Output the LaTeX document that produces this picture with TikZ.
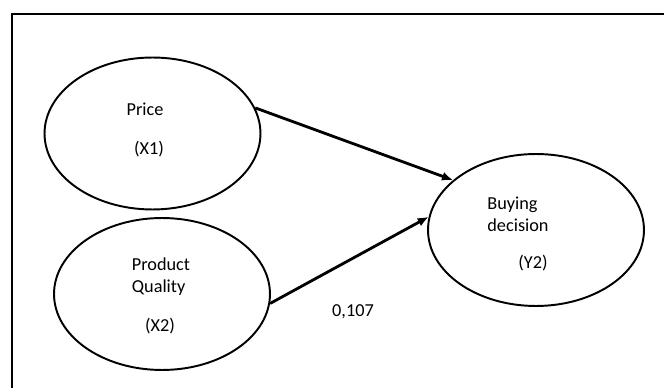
\documentclass[tikz,border=0pt]{standalone}
\usepackage{fontspec}
\setmainfont{Carlito}
\usetikzlibrary{shapes.geometric,arrows.meta}

\tikzset{
	latent/.style={draw, ellipse, line width=1.1pt, inner sep=0pt,
		minimum width=4.32cm, minimum height=3.04cm},
	label/.style={inner sep=0pt, font=\fontsize{10.4}{12.5}\selectfont},
	path/.style={line width=1.6pt, -{Latex[length=2.2mm,width=1.8mm]}}
}

\begin{document}
\begin{tikzpicture}[x=0.02cm, y=-0.02cm]
\useasboundingbox (0,0) rectangle (664,388);

%frame
\draw[line width=1.1pt] (12,388) -- (12,14) -- (664,14);

%constructs
\node[latent] (price) at (152.5,133.5) {};
\node[latent] (quality) at (162,294) {};
\node[latent] (decision) at (536,230) {};

%texts
\node[label] (t1) at (145,109) {Price};
\node[label] (t2) at (149,149) {(X1)};
\node[label, align=left] (t3) at (161,277) {Product\\Quality};
\node[label] (t4) at (160,326) {(X2)};
\node[label, align=left] (t5) at (518,214) {Buying\\decision};
\node[label] (t6) at (533,263) {(Y2)};

%paths
\draw[path] (price.14) -- (decision.149);
\draw[path] (quality.-5) -- (decision.173);
\node[label] (coef) at (353,312) {0,107};

\end{tikzpicture}
\end{document}
